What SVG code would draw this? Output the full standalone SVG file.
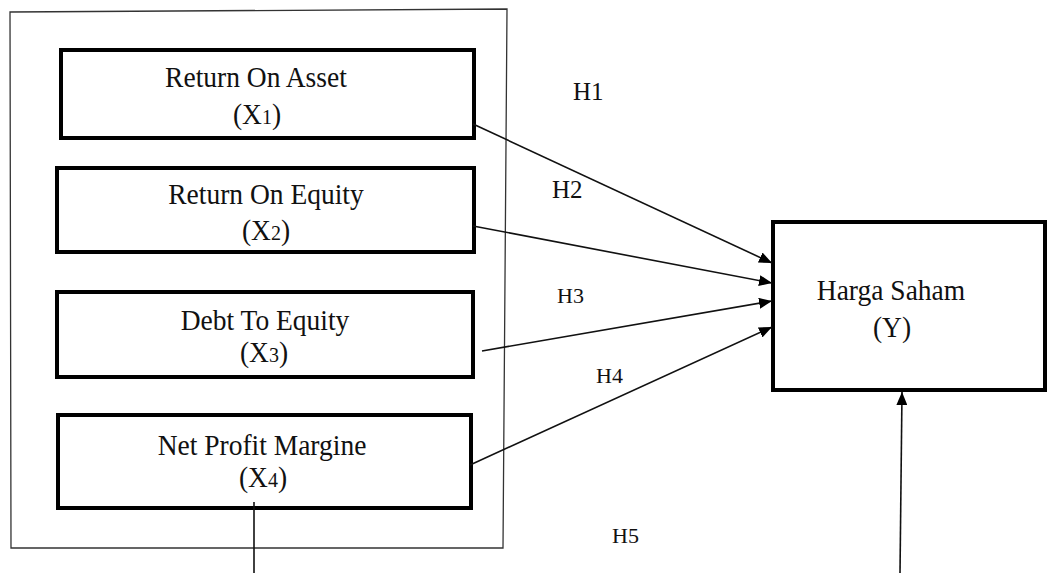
<svg xmlns="http://www.w3.org/2000/svg" width="1047" height="573" viewBox="0 0 1047 573">
<style>
.box{fill:#fff;stroke:#000;stroke-width:4}
.frame{fill:none;stroke:#333;stroke-width:1.3}
.t{font-family:"Liberation Serif","Times New Roman",serif;font-size:27.5px;fill:#111;text-anchor:middle}
.sub{font-size:20px}
.h{font-family:"Liberation Serif","Times New Roman",serif;font-size:25px;fill:#111}
.c{stroke:#111;stroke-width:1.6;fill:none}
</style>
<defs>
<marker id="ah" viewBox="0 0 13 11" refX="13" refY="5.5" markerWidth="13" markerHeight="11" markerUnits="userSpaceOnUse" orient="auto">
<path d="M0,0 L13,5.5 L0,11 Z" fill="#000"/>
</marker>
</defs>
<rect width="1047" height="573" fill="#fff"/>
<g id="frame"><path class="frame" d="M10,12 L507,9 L503,548 L11,548 Z"/></g>
<g id="x1"><rect class="box" x="61" y="50" width="413" height="88"/>
<text class="t" x="256" y="87" transform="translate(0,-5.22) scale(1,1.06)">Return On Asset</text>
<text class="t" x="257" y="124" transform="translate(0,-7.44) scale(1,1.06)">(X<tspan class="sub">1</tspan>)</text></g>
<g id="x2"><rect class="box" x="57" y="168" width="417" height="84"/>
<text class="t" x="266" y="204" transform="translate(0,-12.24) scale(1,1.06)">Return On Equity</text>
<text class="t" x="266" y="240" transform="translate(0,-14.4) scale(1,1.06)">(X<tspan class="sub">2</tspan>)</text></g>
<g id="x3"><rect class="box" x="57" y="292" width="416" height="85"/>
<text class="t" x="265" y="330" transform="translate(0,-19.8) scale(1,1.06)">Debt To Equity</text>
<text class="t" x="264" y="362" transform="translate(0,-21.72) scale(1,1.06)">(X<tspan class="sub">3</tspan>)</text></g>
<g id="x4"><rect class="box" x="58" y="415" width="413" height="93"/>
<text class="t" x="262" y="455" transform="translate(0,-27.3) scale(1,1.06)">Net Profit Margine</text>
<text class="t" x="263" y="487" transform="translate(0,-29.22) scale(1,1.06)">(X<tspan class="sub">4</tspan>)</text></g>
<g id="y"><rect class="box" x="773" y="222" width="272" height="168"/>
<text class="t" x="891" y="300" transform="translate(0,-18) scale(1,1.06)">Harga Saham</text>
<text class="t" x="892" y="337" transform="translate(0,-20.22) scale(1,1.06)">(Y)</text></g>
<g id="connectors">
<line class="c" x1="473" y1="124" x2="772" y2="263" marker-end="url(#ah)"/>
<line class="c" x1="473" y1="226" x2="772" y2="283" marker-end="url(#ah)"/>
<line class="c" x1="482" y1="351" x2="772" y2="301" marker-end="url(#ah)"/>
<line class="c" x1="470" y1="465" x2="772" y2="327" marker-end="url(#ah)"/>
<line class="c" x1="254" y1="502" x2="254" y2="573"/>
<line class="c" x1="900" y1="573" x2="902" y2="392" marker-end="url(#ah)"/>
</g>
<g id="labels">
<text class="h" x="573" y="100">H1</text>
<text class="h" x="552" y="198">H2</text>
<text class="h" x="557" y="303" style="font-size:22px">H3</text>
<text class="h" x="596" y="383" style="font-size:22px">H4</text>
<text class="h" x="612" y="543" style="font-size:22px">H5</text>
</g>
</svg>
